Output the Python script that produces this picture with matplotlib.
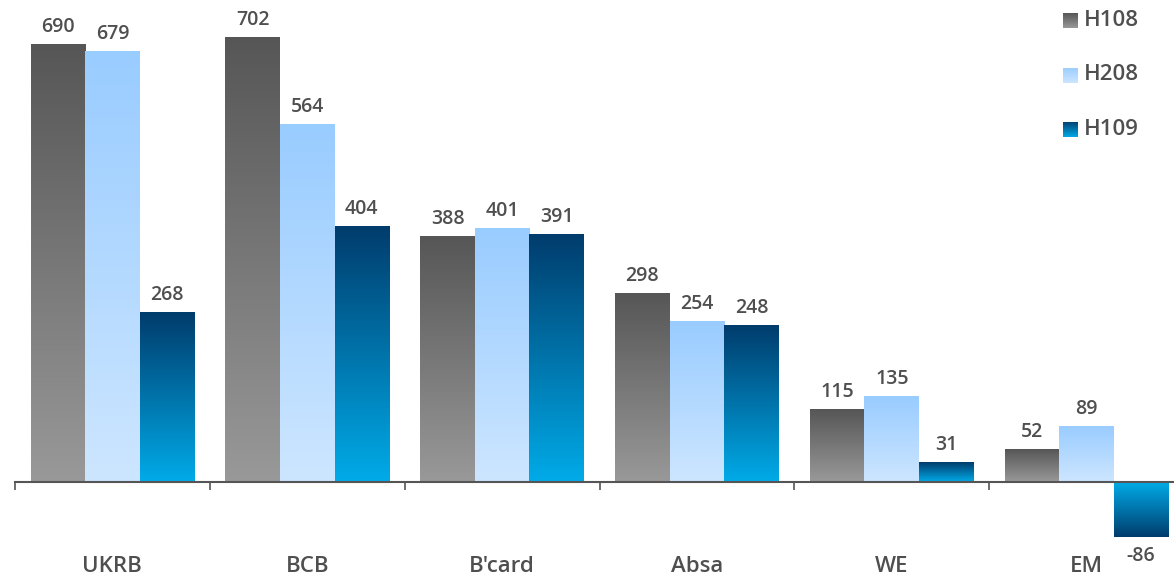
import numpy as np
import matplotlib
matplotlib.use('Agg')
import matplotlib.pyplot as plt
from matplotlib.colors import LinearSegmentedColormap

# data
categories = ['UKRB', 'BCB', "B'card", 'Absa', 'WE', 'EM']
series = ['H108', 'H208', 'H109']
h108 = [690, 702, 388, 298, 115, 52]
h208 = [679, 564, 401, 254, 135, 89]
h109 = [268, 404, 391, 248, 31, -86]

# (colour at bar end, colour at zero line)
grads = [('#565656', '#999999'), ('#99ccff', '#cde6ff'), ('#003c6c', '#00abe8')]
txt = '#4f4f4f'

plt.rcParams['font.family'] = ['Open Sans', 'DejaVu Sans']

fig = plt.figure(figsize=(11.74, 5.81), dpi=100)
ax = fig.add_axes([15 / 1174, 0, 1169 / 1174, 1])

x = np.arange(len(categories))
w = 0.28
vals = [h108, h208, h109]
grad = np.linspace(0, 1, 256).reshape(-1, 1)

for k, v in enumerate(vals):
    cmap = LinearSegmentedColormap.from_list('g%d' % k, [grads[k][0], grads[k][1]])
    bars = ax.bar(x + (k - 1) * w, v, w, color='none', edgecolor='none')
    for b, val in zip(bars, v):
        x0 = b.get_x()
        # light at the zero line, dark at the bar end
        im = ax.imshow(grad[::-1], cmap=cmap, aspect='auto', origin='lower',
                       extent=[x0, x0 + w, 0, val], zorder=2)
        im.set_clip_path(b)
        if val >= 0:
            ax.annotate(str(val), (x0 + w / 2, val), xytext=(0, 5),
                        textcoords='offset points', ha='center', va='bottom',
                        fontsize=14, fontweight='semibold', color=txt)
        else:
            ax.annotate(str(val), (x0 + w / 2, val), xytext=(0, -7),
                        textcoords='offset points', ha='center', va='top',
                        fontsize=14, fontweight='semibold', color=txt)

ax.set_xlim(-0.5, len(categories) - 0.5)
ax.set_ylim(-156, 760)

for s in ['left', 'right', 'top']:
    ax.spines[s].set_visible(False)
ax.spines['bottom'].set_position(('data', 0))
ax.spines['bottom'].set_color('#555555')
ax.spines['bottom'].set_linewidth(1.5)
ax.spines['bottom'].set_zorder(3)
ax.set_yticks([])

ax.set_xticks(np.arange(len(categories) + 1) - 0.5)
ax.set_xticklabels([])
ax.tick_params(axis='x', which='major', length=6, width=1.2, color='#555555', direction='out')
ax.set_xticks(x, minor=True)
ax.set_xticklabels(categories, minor=True, fontweight='semibold')
ax.tick_params(axis='x', which='minor', length=0, pad=53, labelsize=16, labelcolor=txt)

# legend with gradient squares
leg_y = [20, 75, 129]
for k, name in enumerate(series):
    cy = leg_y[k]
    sq = fig.add_axes([1063 / 1174, 1 - (cy + 8) / 581, 15 / 1174, 15 / 581])
    cmap = LinearSegmentedColormap.from_list('l%d' % k, [grads[k][0], grads[k][1]])
    sq.imshow(grad, cmap=cmap, aspect='auto')
    sq.axis('off')
    fig.text(1084 / 1174, 1 - cy / 581, name, ha='left', va='center',
             fontsize=16, fontweight='semibold', color=txt)

fig.savefig('out.png', dpi=100)
